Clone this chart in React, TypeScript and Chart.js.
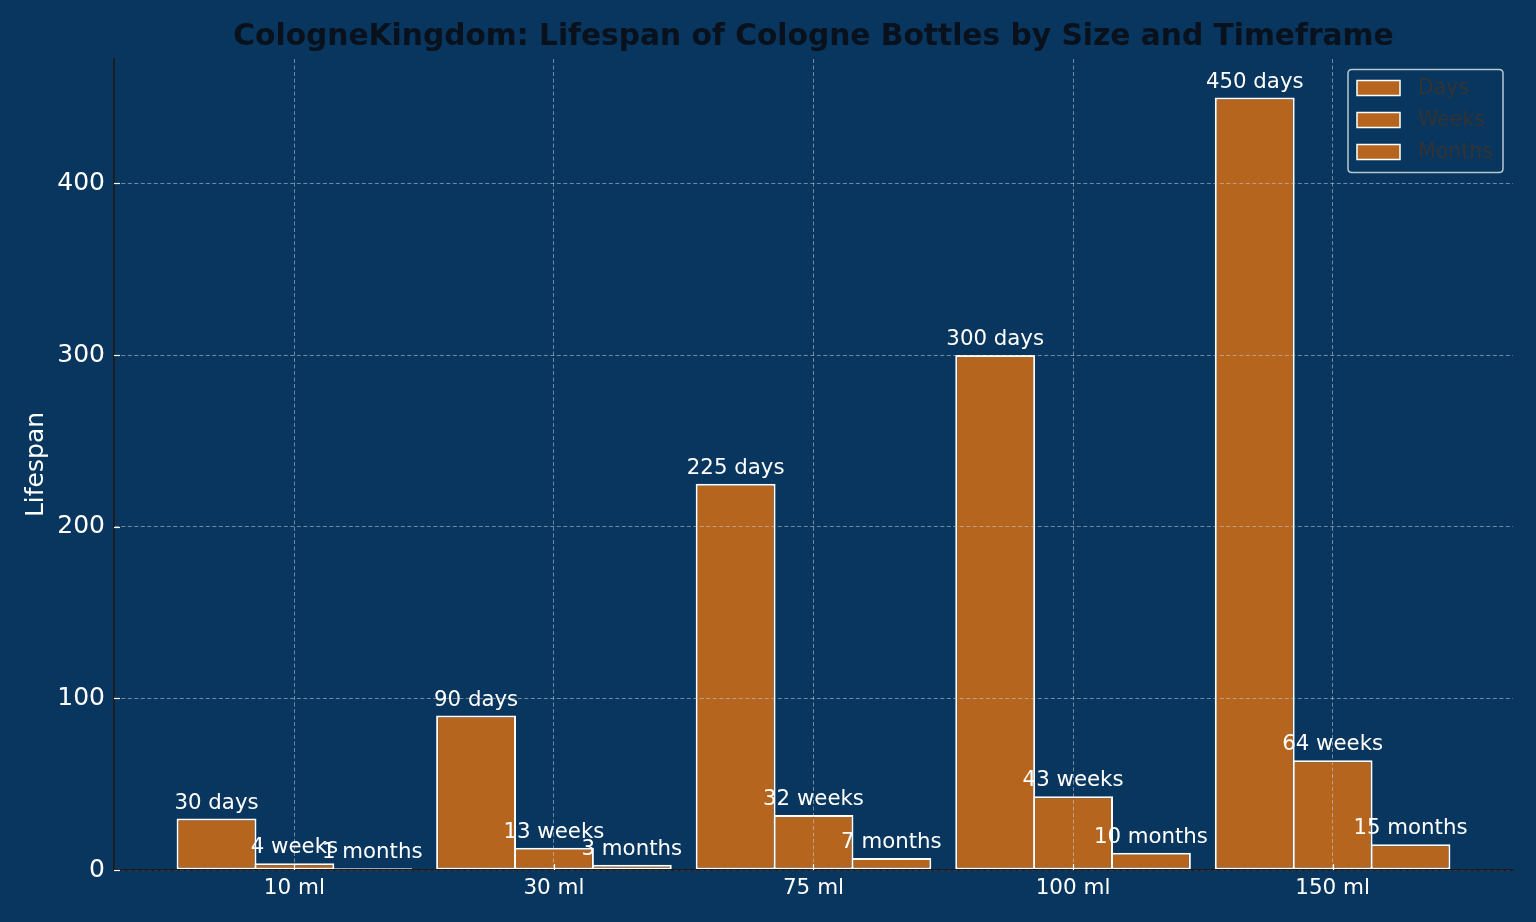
import React, { useEffect, useRef } from 'react';
import { Chart, registerables } from 'chart.js';

Chart.register(...registerables);

// ---- data ----
const categories = ['10 ml', '30 ml', '75 ml', '100 ml', '150 ml'];
const days = [30, 90, 225, 300, 450];
const weeks = [4, 13, 32, 43, 64];
const months = [1, 3, 7, 10, 15];
const seriesLabels = ['Days', 'Weeks', 'Months'];
const units = ['days', 'weeks', 'months'];
const yTicks = [0, 100, 200, 300, 400];
const yMax = 472.5;
const xMin = -0.695;
const xMax = 4.695;
const titleText = 'CologneKingdom: Lifespan of Cologne Bottles by Size and Timeframe';
const yTitle = 'Lifespan';

// ---- styles ----
const BG = '#08365e';
const BAR = '#b5651d';
const EDGE = '#ffffff';
const FONT = "'DejaVu Sans', sans-serif";
const GRID = 'rgba(200,205,215,0.55)';
const SPINE = '#1c1c1c';

const seriesValues = [days, weeks, months];

const overlayPlugin = {
  id: 'overlay',
  beforeDraw(chart: any) {
    const ctx = chart.ctx;
    ctx.save();
    ctx.fillStyle = BG;
    ctx.fillRect(0, 0, chart.width, chart.height);
    ctx.restore();
  },
  afterDraw(chart: any) {
    const ctx = chart.ctx;
    const area = chart.chartArea;
    const xs = chart.scales.x;
    const ys = chart.scales.y;
    ctx.save();

    // inward tick marks
    ctx.strokeStyle = '#ffffff';
    ctx.lineWidth = 1.2;
    yTicks.forEach((t) => {
      const py = Math.round(ys.getPixelForValue(t)) + 0.5;
      ctx.beginPath();
      ctx.moveTo(area.left, py);
      ctx.lineTo(area.left + 6, py);
      ctx.stroke();
    });
    categories.forEach((_, i) => {
      const px = Math.round(xs.getPixelForValue(i)) + 0.5;
      ctx.beginPath();
      ctx.moveTo(px, area.bottom);
      ctx.lineTo(px, area.bottom - 6);
      ctx.stroke();
    });

    // value labels
    ctx.fillStyle = '#ffffff';
    ctx.font = `21.3px ${FONT}`;
    ctx.textAlign = 'center';
    ctx.textBaseline = 'alphabetic';
    chart.data.datasets.forEach((ds: any, di: number) => {
      const meta = chart.getDatasetMeta(di);
      meta.data.forEach((bar: any, i: number) => {
        const v = ds.data[i].y;
        const p = bar.getProps(['x', 'y'], true);
        ctx.fillText(`${v} ${units[di]}`, p.x, p.y - 10);
      });
    });

    // legend
    const lw = 155;
    const lh = 103;
    const lx = area.right - 10 - lw;
    const ly = area.top + 10.5;
    const r = 4;
    ctx.beginPath();
    ctx.moveTo(lx + r, ly);
    ctx.lineTo(lx + lw - r, ly);
    ctx.quadraticCurveTo(lx + lw, ly, lx + lw, ly + r);
    ctx.lineTo(lx + lw, ly + lh - r);
    ctx.quadraticCurveTo(lx + lw, ly + lh, lx + lw - r, ly + lh);
    ctx.lineTo(lx + r, ly + lh);
    ctx.quadraticCurveTo(lx, ly + lh, lx, ly + lh - r);
    ctx.lineTo(lx, ly + r);
    ctx.quadraticCurveTo(lx, ly, lx + r, ly);
    ctx.closePath();
    ctx.fillStyle = BG;
    ctx.fill();
    ctx.strokeStyle = 'rgba(230,235,240,0.8)';
    ctx.lineWidth = 1.5;
    ctx.stroke();
    ctx.font = `20.5px ${FONT}`;
    ctx.textAlign = 'left';
    ctx.textBaseline = 'middle';
    chart.data.datasets.forEach((ds: any, di: number) => {
      const cy = ly + 18.5 + di * 32;
      ctx.fillStyle = BAR;
      ctx.fillRect(lx + 9, cy - 7.5, 43, 15);
      ctx.strokeStyle = EDGE;
      ctx.lineWidth = 1.5;
      ctx.strokeRect(lx + 9, cy - 7.5, 43, 15);
      ctx.fillStyle = '#333333';
      ctx.fillText(ds.label, lx + 70, cy + 1);
    });

    // title
    ctx.fillStyle = '#08111c';
    ctx.font = `bold 29.7px ${FONT}`;
    ctx.textAlign = 'center';
    ctx.textBaseline = 'alphabetic';
    ctx.fillText(titleText, (area.left + area.right) / 2, 45);

    ctx.restore();
  },
};

export default function App() {
  const ref = useRef<HTMLCanvasElement | null>(null);

  useEffect(() => {
    if (!ref.current) return;
    const chart = new Chart(ref.current, {
      type: 'bar',
      data: {
        datasets: seriesValues.map((vals, di) => ({
          label: seriesLabels[di],
          data: vals.map((v, i) => ({ x: i, y: v })),
          backgroundColor: BAR,
          borderColor: EDGE,
          borderWidth: 2,
          borderSkipped: false,
          barPercentage: 1.026,
          categoryPercentage: 0.9,
        })),
      },
      options: {
        responsive: false,
        animation: false,
        devicePixelRatio: 1,
        events: [],
        layout: { padding: { top: 59, right: 23, left: 0, bottom: 0 } },
        plugins: {
          legend: { display: false },
          title: { display: false },
          tooltip: { enabled: false },
        },
        scales: {
          x: {
            type: 'linear',
            min: xMin,
            max: xMax,
            offset: false,
            afterBuildTicks: (scale: any) => {
              scale.ticks = categories.map((_, i) => ({ value: i }));
            },
            afterFit: (scale: any) => {
              scale.height = 52;
            },
            ticks: {
              autoSkip: false,
              maxRotation: 0,
              color: '#ffffff',
              font: { family: FONT, size: 21.5 },
              padding: 6,
              callback: (v: any) => categories[Math.round(Number(v))] ?? '',
            },
            grid: {
              color: GRID,
              lineWidth: 1,
              drawTicks: false,
              offset: false,
              z: 1,
            },
            border: { display: true, color: SPINE, width: 1.8, dash: [4, 2.5], z: 2 },
          },
          y: {
            type: 'linear',
            min: 0,
            max: yMax,
            afterBuildTicks: (scale: any) => {
              scale.ticks = yTicks.map((v) => ({ value: v }));
            },
            afterFit: (scale: any) => {
              scale.width = 114;
            },
            ticks: {
              color: '#ffffff',
              font: { family: FONT, size: 25 },
              padding: 9,
              callback: (v: any) => String(v),
            },
            grid: {
              color: GRID,
              lineWidth: 1,
              drawTicks: false,
              offset: false,
              z: 1,
            },
            border: { display: true, color: SPINE, width: 1.8, dash: [4, 2.5], z: 2 },
            title: {
              display: true,
              text: yTitle,
              color: '#ffffff',
              font: { family: FONT, size: 25 },
              padding: { top: 21, bottom: 0 },
            },
          },
        },
      } as any,
      plugins: [overlayPlugin],
    });
    return () => chart.destroy();
  }, []);

  return (
    <div style={{ position: 'absolute', left: 0, top: 0, width: 1536, height: 922, background: BG }}>
      <canvas ref={ref} width={1536} height={922} style={{ display: 'block' }} />
    </div>
  );
}
